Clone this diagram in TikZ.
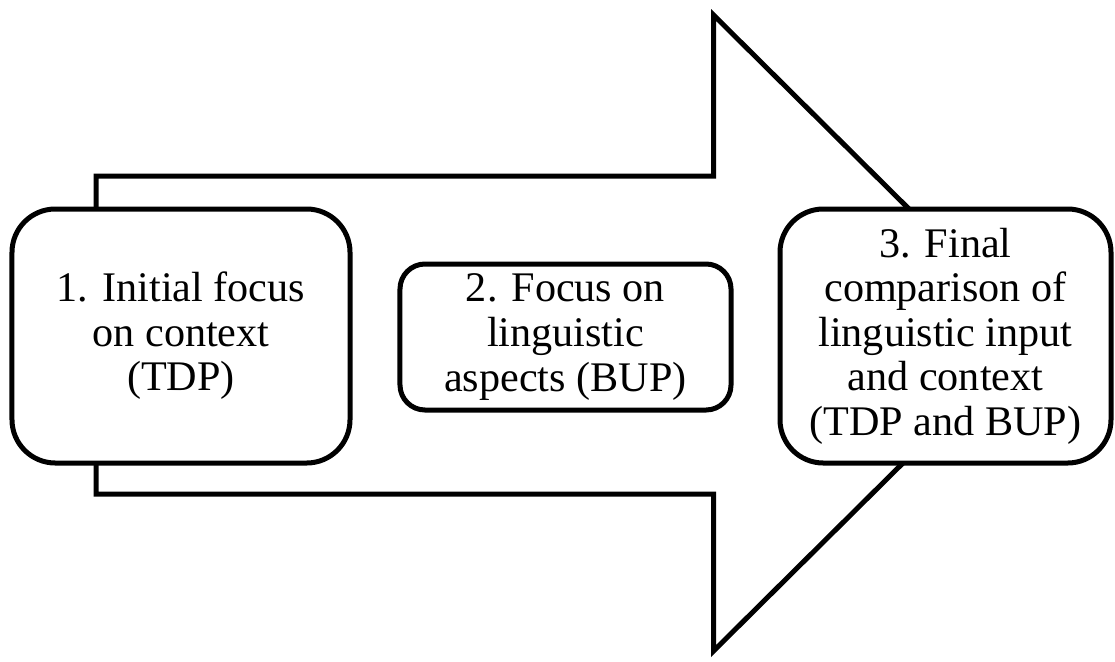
\documentclass[tikz,border=0pt]{standalone}
\usepackage{fontspec}
\setmainfont{Liberation Serif}
\begin{document}
\begin{tikzpicture}[x=0.03cm,y=-0.03cm,line width=0.15cm,
  stage/.style={draw,fill=white,align=center,inner sep=0pt,
    font=\fontsize{36}{38}\selectfont,rounded corners=1.3cm,
    minimum width=10.14cm,minimum height=7.62cm}]

  \useasboundingbox (0,0) rectangle (1115,661);

  % big arrow behind the boxes
  \draw[line join=miter] (96,176) -- (713.5,176) -- (713.5,15) -- (1034,333)
    -- (713.5,651) -- (713.5,494) -- (96,494) -- cycle;

  \node[stage] (1) at (181,336)
    {1. Initial focus\\on context\\(TDP)};
  \node[stage,minimum width=9.93cm,minimum height=4.38cm,
    rounded corners=0.75cm] (2) at (565.5,337)
    {2. Focus on\\linguistic\\aspects (BUP)};
  \node[stage,minimum width=9.93cm] (3) at (945.5,336)
    {3. Final\\comparison of\\linguistic input\\and context\\(TDP and BUP)};

\end{tikzpicture}
\end{document}
